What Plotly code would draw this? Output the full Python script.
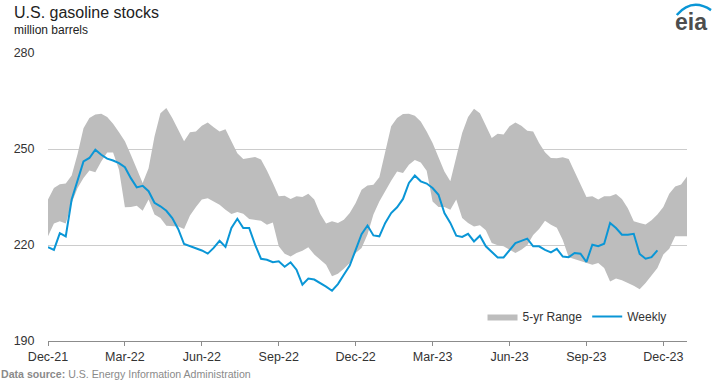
import pandas as pd
import plotly.graph_objects as go

# Weekly U.S. gasoline stocks (million barrels), weeks starting 2021-12-03
weekly_start = "2021-12-03"
weekly_values = [
    219.3, 218.5, 223.7, 222.7, 234.2, 240.4, 246.1, 247.2, 249.8, 248.2,
    247.0, 246.4, 245.6, 244.3, 240.9, 238.0, 238.5, 236.8, 233.2, 232.1,
    230.7, 228.4, 225.0, 220.3, 219.7, 219.1, 218.3, 217.3, 219.1, 221.3,
    219.4, 225.3, 228.2, 225.3, 225.3, 220.1, 215.7, 215.4, 214.6, 214.9,
    213.2, 214.6, 212.3, 207.6, 209.5, 209.2, 208.2, 207.0, 205.7, 207.8,
    210.7, 213.6, 218.5, 223.4, 226.1, 223.0, 222.7, 226.9, 230.0, 231.8,
    234.4, 239.4, 241.7, 239.9, 239.2, 237.8, 235.7, 230.0, 226.9, 222.9,
    222.5, 223.5, 221.1, 222.9, 219.6, 218.0, 216.1, 216.1, 218.5, 220.6,
    221.3, 222.0, 219.6, 219.6, 218.5, 217.7, 218.8, 216.4, 216.2, 217.5,
    217.3, 214.7, 220.1, 219.6, 220.4, 226.9, 225.3, 223.2, 223.2, 223.5,
    217.2, 215.7, 216.2, 218.3,
]

# 5-year range bounds, same weekly calendar, extending to end of 2023
range_upper = [
    234.2, 237.8, 239.0, 239.2, 241.7, 248.4, 256.5, 259.7, 260.8, 261.0,
    260.0, 257.9, 255.2, 252.4, 248.2, 243.5, 239.4, 244.0, 253.9, 261.2,
    262.8, 259.7, 256.0, 252.4, 255.2, 255.5, 257.3, 258.3, 256.8, 255.5,
    256.2, 252.4, 248.7, 246.9, 247.2, 247.5, 246.7, 243.3, 239.4, 235.2,
    235.4, 234.4, 235.2, 235.0, 236.0, 234.2, 229.8, 226.7, 227.4, 226.9,
    227.9, 230.0, 233.1, 237.3, 238.6, 238.8, 241.2, 249.3, 257.1, 259.7,
    260.9, 261.0, 260.4, 258.6, 255.5, 251.9, 247.7, 243.0, 239.9, 247.7,
    255.0, 260.0, 262.6, 261.2, 257.3, 253.4, 254.8, 254.5, 257.1, 258.3,
    257.3, 255.7, 255.5, 251.9, 249.0, 247.2, 247.1, 247.4, 246.9, 243.0,
    238.8, 235.0, 235.2, 234.2, 235.2, 235.2, 235.9, 234.4, 231.5, 227.4,
    226.9, 226.4, 227.7, 229.5, 231.9, 236.0, 238.3, 238.9, 241.4,
]
range_lower = [
    222.7, 226.7, 227.4, 226.7, 233.1, 237.8, 240.9, 243.3, 242.7, 246.1,
    248.9, 248.9, 243.5, 231.8, 231.9, 232.3, 230.7, 234.2, 229.5, 228.4,
    226.0, 226.0, 225.8, 225.0, 229.2, 231.9, 234.2, 234.6, 233.7, 232.6,
    231.0, 229.7, 230.3, 229.8, 228.1, 227.9, 227.6, 226.3, 227.0, 219.6,
    217.3, 216.4, 217.5, 218.2, 219.3, 217.0, 215.4, 213.8, 210.2, 211.0,
    212.6, 214.4, 217.5, 219.1, 223.3, 229.5, 233.6, 237.0, 240.1, 243.0,
    242.5, 245.1, 246.6, 245.8, 243.2, 233.6, 231.9, 231.9, 231.0, 234.2,
    228.4, 226.9, 225.8, 226.2, 224.6, 220.6, 219.9, 219.6, 218.5, 217.5,
    218.5, 219.9, 223.1, 225.0, 227.6, 226.3, 225.4, 221.6, 216.2, 215.6,
    215.2, 214.4, 213.8, 214.4, 212.8, 208.6, 209.5, 209.0, 208.2, 207.3,
    206.2, 208.1, 210.5, 212.8, 217.0, 218.8, 222.7, 222.7, 222.7,
]

y_ticks = [190, 220, 250, 280]
y_solid_grid = [220, 250]
y_dotted_grid = [280]
y_range = [190, 280]
x_tick_every_weeks = 13

weekly_dates = pd.date_range(weekly_start, periods=len(weekly_values), freq="7D")
range_dates = pd.date_range(weekly_start, periods=len(range_upper), freq="7D")
tick_dates = range_dates[::x_tick_every_weeks]

FONT = "'Liberation Sans', Arial, sans-serif"
BAND = "#bdbdbd"
BLUE = "#0a96d6"

fig = go.Figure()
# invisible helpers so the gridline axes are drawn
for ax in ("y2", "y3"):
    fig.add_trace(go.Scatter(
        x=weekly_dates, y=weekly_values, yaxis=ax, mode="lines",
        line=dict(width=0, color="rgba(0,0,0,0)"), showlegend=False,
        hoverinfo="skip",
    ))
fig.add_trace(go.Scatter(
    x=range_dates, y=range_lower, mode="lines", line=dict(width=0, color=BAND),
    showlegend=False, hoverinfo="skip",
))
fig.add_trace(go.Scatter(
    x=range_dates, y=range_upper, mode="lines", line=dict(width=0, color=BAND),
    fill="tonexty", fillcolor=BAND, name="5-yr Range",
))
fig.add_trace(go.Scatter(
    x=weekly_dates, y=weekly_values, mode="lines",
    line=dict(width=2, color=BLUE), name="Weekly",
))

fig.update_layout(
    width=719, height=384,
    margin=dict(l=48, r=32, t=53, b=43),
    paper_bgcolor="white", plot_bgcolor="rgba(0,0,0,0)",
    font=dict(family=FONT, size=12, color="#333333"),
    showlegend=True,
    legend=dict(
        orientation="h", x=0.68, y=0.085, xanchor="left", yanchor="middle",
        font=dict(size=12, color="#333333"), bgcolor="rgba(0,0,0,0)",
        itemwidth=30, traceorder="normal",
    ),
    xaxis=dict(
        range=[range_dates[0], range_dates[-1]],
        tickvals=tick_dates, tickformat="%b-%y",
        showgrid=False, showline=True, linecolor="#8c8c8c", linewidth=1,
        ticks="outside", ticklen=4, tickcolor="#8c8c8c",
        tickfont=dict(size=12.5, color="#333333"),
        zeroline=False,
    ),
    yaxis=dict(
        range=y_range, tickvals=y_ticks,
        showgrid=False, showline=False, zeroline=False,
        ticks="outside", ticklen=10, tickcolor="rgba(0,0,0,0)",
        tickfont=dict(size=12.5, color="#333333"),
    ),
    yaxis2=dict(
        overlaying="y", range=y_range, tickvals=y_solid_grid,
        showgrid=True, gridcolor="#cccccc", gridwidth=1,
        showticklabels=False, showline=False, zeroline=False, ticks="",
    ),
    yaxis3=dict(
        overlaying="y", range=y_range, tickvals=y_dotted_grid,
        showgrid=True, gridcolor="#c8c8c8", gridwidth=1, griddash="dot",
        showticklabels=False, showline=False, zeroline=False, ticks="",
    ),
    annotations=[
        dict(text="U.S. gasoline stocks", xref="paper", yref="paper",
             x=-0.057, y=1.0, xanchor="left", yanchor="bottom", yshift=30,
             showarrow=False, font=dict(size=16, color="#222222")),
        dict(text="million barrels", xref="paper", yref="paper",
             x=-0.057, y=1.0, xanchor="left", yanchor="bottom", yshift=14,
             showarrow=False, font=dict(size=12, color="#222222")),
        dict(text="<b>Data source:</b> U.S. Energy Information Administration",
             xref="paper", yref="paper", x=-0.076, y=0, xanchor="left",
             yanchor="top", yshift=-25, showarrow=False,
             font=dict(size=10.6, color="#8a8a8a")),
        dict(text="<b>eia</b>", xref="paper", yref="paper", x=1.035, y=1.0,
             xanchor="right", yanchor="middle", yshift=31, showarrow=False,
             font=dict(size=23, color="#4d4d4d")),
    ],
    shapes=[
        dict(type="path", xref="paper", yref="paper",
             path="M 0.984 1.132 Q 1.0078 1.1927 1.0376 1.149",
             line=dict(color="#0a96d6", width=2.5)),
    ],
)

fig.write_html("out.html", config={"displayModeBar": False},
               post_script="document.body.style.margin='0';")
